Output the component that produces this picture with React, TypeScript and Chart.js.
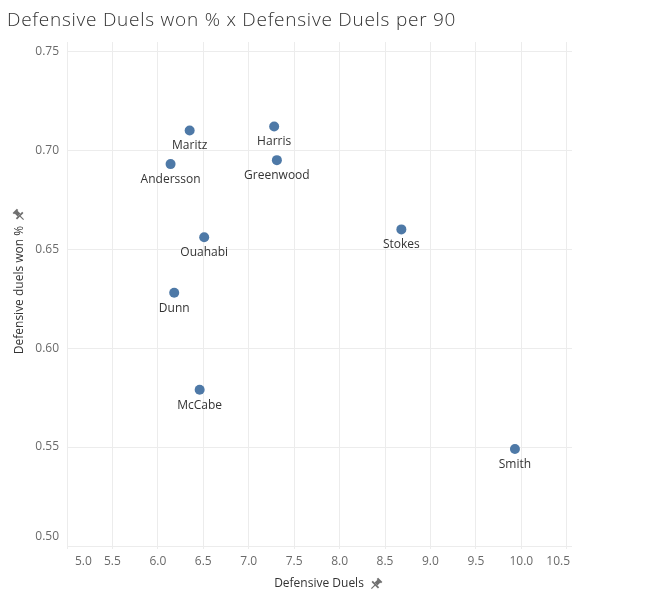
import React, { useEffect, useRef } from "react";
import { Chart, registerables } from "chart.js";

Chart.register(...registerables);

const chartTitle = "Defensive Duels won % x Defensive Duels per 90";
const xAxisTitle = "Defensive Duels";
const yAxisTitle = "Defensive duels won %";

const playerNames = ["Maritz", "Harris", "Andersson", "Greenwood", "Ouahabi", "Dunn", "Stokes", "McCabe", "Smith"];
const defensiveDuelsPer90 = [6.35, 7.28, 6.14, 7.31, 6.51, 6.18, 8.68, 6.46, 9.93];
const defensiveDuelsWonPct = [0.710, 0.712, 0.693, 0.695, 0.656, 0.628, 0.660, 0.579, 0.549];

const xTickValues = [5.0, 5.5, 6.0, 6.5, 7.0, 7.5, 8.0, 8.5, 9.0, 9.5, 10.0, 10.5];
const yTickValues = [0.5, 0.55, 0.6, 0.65, 0.7, 0.75];

const FONT = "'Open Sans', 'Noto Sans', sans-serif";

function drawPin(ctx: CanvasRenderingContext2D, x: number, y: number, angle: number) {
  ctx.save();
  ctx.translate(x, y);
  ctx.rotate(angle);
  ctx.fillStyle = "#6f6f6f";
  ctx.strokeStyle = "#6f6f6f";
  ctx.fillRect(-3, -6, 6, 2);
  ctx.fillRect(-2, -4.5, 4, 4.5);
  ctx.fillRect(-4.5, 0, 9, 1.8);
  ctx.lineWidth = 1.2;
  ctx.beginPath();
  ctx.moveTo(0, 1.5);
  ctx.lineTo(0, 6.5);
  ctx.stroke();
  ctx.restore();
}

const overlayPlugin = {
  id: "overlay",
  afterDraw(chart: any) {
    const ctx: any = chart.ctx;
    const area = chart.chartArea;
    ctx.save();

    // Title
    ctx.fillStyle = "#333333";
    ctx.font = `300 19px ${FONT}`;
    ctx.textAlign = "left";
    ctx.textBaseline = "alphabetic";
    if ("letterSpacing" in ctx) ctx.letterSpacing = "0.75px";
    ctx.fillText(chartTitle, 7, 26);
    if ("letterSpacing" in ctx) ctx.letterSpacing = "0px";

    // X tick labels (first/last kept inside the plot)
    const xs = chart.scales.x;
    ctx.font = `12px ${FONT}`;
    ctx.fillStyle = "#6a6a6a";
    ctx.textBaseline = "middle";
    const xt = xs.ticks;
    xt.forEach((t: any, i: number) => {
      const px = xs.getPixelForValue(t.value);
      const label = t.value.toFixed(1);
      if (i === 0) {
        ctx.textAlign = "left";
        ctx.fillText(label, px + 8, 562);
      } else if (i === xt.length - 1) {
        ctx.textAlign = "right";
        ctx.fillText(label, area.right - 2, 562);
      } else {
        ctx.textAlign = "center";
        ctx.fillText(label, px, 562);
      }
    });

    // Y tick labels (bottom one kept inside the plot)
    const ys = chart.scales.y;
    ctx.textAlign = "right";
    ys.ticks.forEach((t: any, i: number) => {
      const py = ys.getPixelForValue(t.value);
      const label = t.value.toFixed(2);
      ctx.fillText(label, 59, i === 0 ? py - 9 : py);
    });

    // Point labels
    const meta = chart.getDatasetMeta(0);
    ctx.font = `12px ${FONT}`;
    ctx.fillStyle = "#333333";
    ctx.textAlign = "center";
    ctx.textBaseline = "middle";
    meta.data.forEach((pt: any, i: number) => {
      ctx.fillText(playerNames[i], pt.x, pt.y + 15.5);
    });

    // X axis title
    ctx.fillText(xAxisTitle, 319, 584);
    drawPin(ctx, 376, 584, Math.PI / 4);

    // Y axis title
    ctx.save();
    ctx.translate(20, 290);
    ctx.rotate(-Math.PI / 2);
    ctx.textAlign = "center";
    ctx.textBaseline = "middle";
    ctx.fillText(yAxisTitle, 0, 0);
    ctx.restore();
    drawPin(ctx, 19, 215, -Math.PI / 4);

    ctx.restore();
  },
};

export default function App() {
  const canvasRef = useRef<HTMLCanvasElement | null>(null);

  useEffect(() => {
    document.body.style.margin = "0";
    const canvas = canvasRef.current;
    if (!canvas) return;
    const points = defensiveDuelsPer90.map((x, i) => ({ x, y: defensiveDuelsWonPct[i] }));
    const chart = new Chart(canvas, {
      type: "scatter",
      data: {
        datasets: [
          {
            data: points,
            backgroundColor: "#4E79A7",
            borderWidth: 0,
            pointRadius: 5,
            pointHoverRadius: 5,
          },
        ],
      },
      options: {
        animation: false,
        responsive: false,
        devicePixelRatio: 1,
        layout: { padding: { top: 42, right: 99, left: 0, bottom: 0 } },
        plugins: {
          legend: { display: false },
          tooltip: { enabled: false },
          title: { display: false },
        },
        scales: {
          x: {
            type: "linear",
            min: 5,
            max: 10.558,
            afterBuildTicks: (s: any) => {
              s.ticks = xTickValues.map((v) => ({ value: v }));
            },
            afterFit: (s: any) => {
              s.height = 60;
            },
            ticks: { display: false },
            grid: { color: "#ececec", drawTicks: true, tickLength: 3, tickColor: "#ececec" },
            border: { display: false },
          },
          y: {
            type: "linear",
            min: 0.5,
            max: 0.7547,
            afterBuildTicks: (s: any) => {
              s.ticks = yTickValues.map((v) => ({ value: v }));
            },
            afterFit: (s: any) => {
              s.width = 67;
            },
            ticks: { display: false },
            grid: { color: "#ececec", drawTicks: false },
            border: { display: false },
          },
        },
      },
      plugins: [overlayPlugin],
    });
    return () => chart.destroy();
  }, []);

  return (
    <div style={{ position: "absolute", left: 0, top: 0, width: 671, height: 606, background: "#fff" }}>
      <canvas ref={canvasRef} width={671} height={606} style={{ display: "block" }} />
    </div>
  );
}
